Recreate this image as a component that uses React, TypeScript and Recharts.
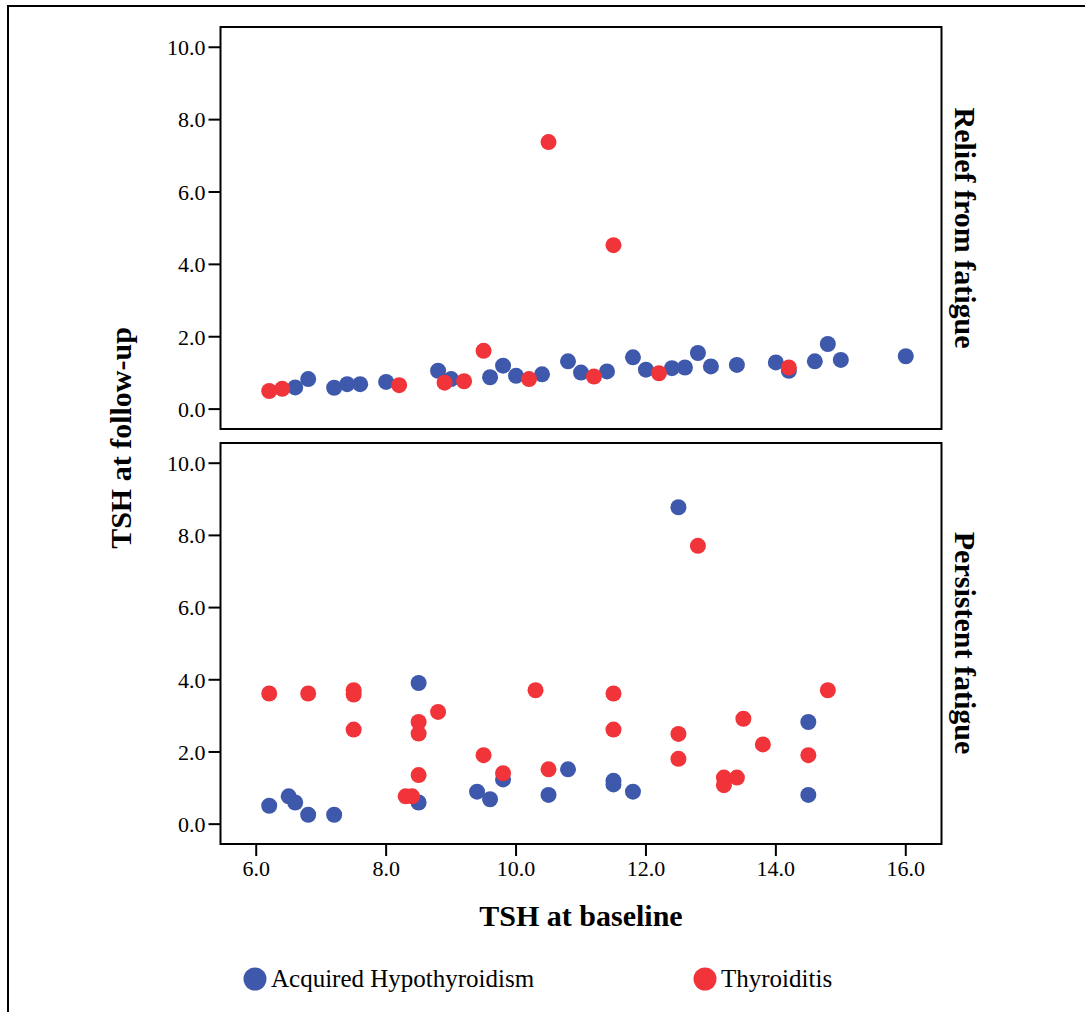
import React from 'react';
import { ScatterChart, Scatter, XAxis, YAxis, ReferenceArea, Legend } from 'recharts';

// ---- data (TSH at baseline, TSH at follow-up) ----
const reliefHypo: [number, number][] = [
  [6.6, 0.6], [6.8, 0.83], [7.2, 0.59], [7.4, 0.69], [7.6, 0.69], [8.0, 0.75], [8.8, 1.06], [9.0, 0.83],
  [9.6, 0.88], [9.8, 1.2], [10.0, 0.92], [10.4, 0.96], [10.8, 1.32], [11.0, 1.01], [11.4, 1.04], [11.8, 1.43],
  [12.0, 1.09], [12.4, 1.13], [12.6, 1.15], [12.8, 1.55], [13.0, 1.18], [13.4, 1.22], [14.0, 1.29], [14.2, 1.06],
  [14.6, 1.32], [14.8, 1.8], [15.0, 1.36], [16.0, 1.46],
];
const reliefThyr: [number, number][] = [
  [6.2, 0.5], [6.4, 0.56], [8.2, 0.66], [8.9, 0.73], [9.2, 0.77], [9.5, 1.61], [10.2, 0.83], [10.5, 7.38],
  [11.2, 0.9], [11.5, 4.53], [12.2, 0.99], [14.2, 1.15],
];
const persistHypo: [number, number][] = [
  [6.2, 0.51], [6.5, 0.77], [6.6, 0.6], [6.8, 0.26], [7.2, 0.26], [8.5, 3.91], [8.5, 0.6], [9.4, 0.9],
  [9.6, 0.69], [9.8, 1.24], [10.5, 0.81], [10.8, 1.52], [11.5, 1.2], [11.5, 1.1], [11.8, 0.9], [12.5, 8.78],
  [14.5, 2.83], [14.5, 0.81],
];
const persistThyr: [number, number][] = [
  [6.2, 3.62], [6.8, 3.62], [7.5, 3.71], [7.5, 3.59], [7.5, 2.62], [8.3, 0.77], [8.4, 0.77], [8.5, 2.83],
  [8.5, 2.51], [8.5, 1.36], [8.8, 3.11], [9.5, 1.91], [9.8, 1.41], [10.3, 3.71], [10.5, 1.52], [11.5, 3.62],
  [11.5, 2.62], [12.5, 2.5], [12.5, 1.81], [12.8, 7.71], [13.2, 1.29], [13.2, 1.08], [13.4, 1.29], [13.5, 2.92],
  [13.8, 2.21], [14.5, 1.91], [14.8, 3.71],
];

const xTicks = [6, 8, 10, 12, 14, 16];
const yTicks = [0, 2, 4, 6, 8, 10];
const seriesNames = ['Acquired Hypothyroidism', 'Thyroiditis'];
const panelNames = ['Relief from fatigue', 'Persistent fatigue'];
const axisTitles = ['TSH at baseline', 'TSH at follow-up'];

const X_DOMAIN: [number, number] = [5.45, 16.55];
const Y_DOMAIN: [number, number] = [-0.55, 10.56];

const BLUE = '#3E58AC';
const RED = '#F1333A';
const FONT = '"Liberation Serif", "Times New Roman", serif';

const toPts = (arr: [number, number][]) => arr.map(([x, y]) => ({ x, y }));

const Dot = (props: any) => {
  const { cx, cy, fill } = props;
  if (cx == null || cy == null) return null;
  return <circle cx={cx} cy={cy} r={8} fill={fill} />;
};

const fmt = (v: number) => v.toFixed(1);
const tickStyle = { fontSize: 22, fill: '#000', fontFamily: FONT };

const LEGEND_X = [255, 705];
const renderLegend = (props: any) => {
  const payload = props.payload || [];
  return (
    <svg width={1085} height={40} style={{ display: 'block' }}>
      {payload.map((p: any, i: number) => (
        <g key={i}>
          <circle cx={LEGEND_X[i]} cy={19} r={11.5} fill={p.color} />
          <text x={LEGEND_X[i] + 16} y={27} fontSize={25} fontFamily={FONT} fill="#000">
            {p.value}
          </text>
        </g>
      ))}
    </svg>
  );
};

function Panel({
  hypo, thyr, showX, height, margin, legend,
}: {
  hypo: [number, number][]; thyr: [number, number][]; showX: boolean; height: number;
  margin: { top: number; right: number; bottom: number; left: number }; legend?: boolean;
}) {
  return (
    <ScatterChart width={1085} height={height} margin={margin}>
      <XAxis
        type="number"
        dataKey="x"
        domain={X_DOMAIN}
        allowDataOverflow
        ticks={xTicks}
        tickFormatter={fmt}
        hide={!showX}
        axisLine={false}
        tickLine={{ stroke: '#000', strokeWidth: 2 }}
        tickSize={12}
        tickMargin={4}
        height={40}
        tick={tickStyle}
        interval={0}
      />
      <YAxis
        type="number"
        dataKey="y"
        domain={Y_DOMAIN}
        allowDataOverflow
        ticks={yTicks}
        tickFormatter={fmt}
        axisLine={false}
        tickLine={{ stroke: '#000', strokeWidth: 2 }}
        tickSize={12}
        tickMargin={3}
        width={60}
        tick={tickStyle}
        interval={0}
      />
      <ReferenceArea
        x1={X_DOMAIN[0]}
        x2={X_DOMAIN[1]}
        y1={Y_DOMAIN[0]}
        y2={Y_DOMAIN[1]}
        fill="none"
        stroke="#000"
        strokeWidth={2}
        ifOverflow="visible"
      />
      <Scatter name={seriesNames[0]} data={toPts(hypo)} fill={BLUE} shape={Dot} isAnimationActive={false} />
      <Scatter name={seriesNames[1]} data={toPts(thyr)} fill={RED} shape={Dot} isAnimationActive={false} />
      {legend && (
        <Legend
          layout="horizontal"
          verticalAlign="middle"
          align="center"
          content={renderLegend}
          wrapperStyle={{ left: 0, top: 530, width: 1085, height: 40 }}
        />
      )}
    </ScatterChart>
  );
}

export default function App() {
  return (
    <div
      style={{
        position: 'absolute', left: 0, top: 0, width: 1085, height: 1012, overflow: 'hidden',
        background: '#fff', fontFamily: FONT,
      }}
    >
      <div
        style={{
          position: 'absolute', left: 7, top: 5, width: 1120, height: 1040,
          border: '2px solid #000', boxSizing: 'border-box',
        }}
      />
      <div style={{ position: 'absolute', left: 0, top: 0 }}>
        <Panel
          hypo={reliefHypo}
          thyr={reliefThyr}
          showX={false}
          height={440}
          margin={{ top: 27, right: 143.5, bottom: 11, left: 160.5 }}
        />
      </div>
      <div style={{ position: 'absolute', left: 0, top: 430 }}>
        <Panel
          hypo={persistHypo}
          thyr={persistThyr}
          showX={true}
          height={582}
          margin={{ top: 13, right: 143.5, bottom: 128, left: 160.5 }}
          legend
        />
      </div>
      <svg
        width={1085}
        height={1012}
        style={{ position: 'absolute', left: 0, top: 0, pointerEvents: 'none' }}
      >
        <text x={581} y={926} textAnchor="middle" fontSize={30} fontWeight="bold" fontFamily={FONT} fill="#000">
          {axisTitles[0]}
        </text>
        <text
          x={131} y={438} transform="rotate(-90 131 438)" textAnchor="middle"
          fontSize={30} fontWeight="bold" fontFamily={FONT} fill="#000"
        >
          {axisTitles[1]}
        </text>
        <text
          x={955} y={228} transform="rotate(90 955 228)" textAnchor="middle"
          fontSize={30} fontWeight="bold" fontFamily={FONT} fill="#000"
        >
          {panelNames[0]}
        </text>
        <text
          x={955} y={643} transform="rotate(90 955 643)" textAnchor="middle"
          fontSize={30} fontWeight="bold" fontFamily={FONT} fill="#000"
        >
          {panelNames[1]}
        </text>
      </svg>
    </div>
  );
}
